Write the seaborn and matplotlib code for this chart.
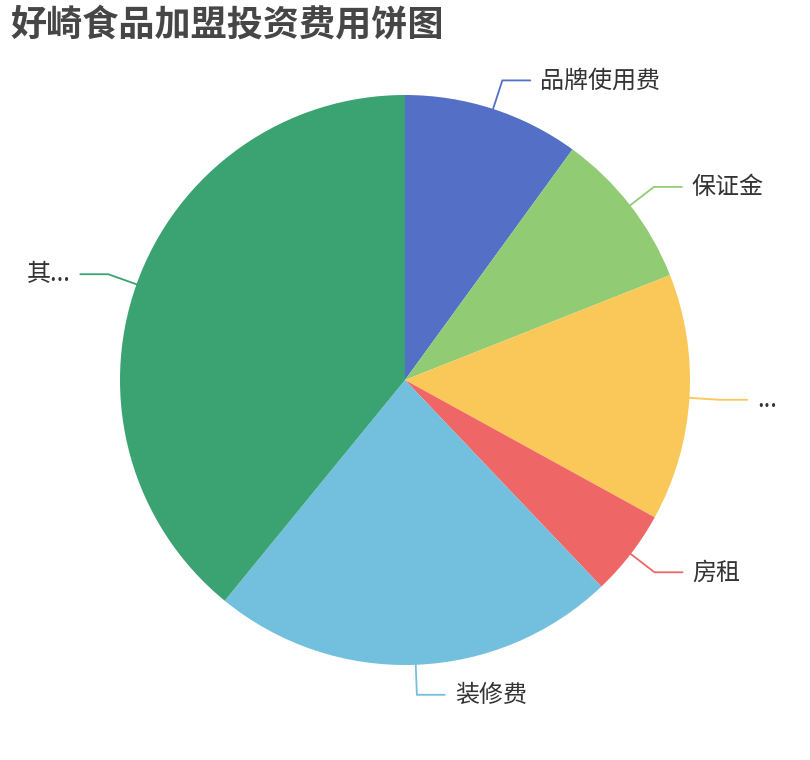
import numpy as np
import matplotlib
matplotlib.use("Agg")
import matplotlib.pyplot as plt
import seaborn as sns

# pie data (shares)
categories = ["品牌使用费", "保证金", "...", "房租", "装修费", "其..."]
values = [10, 9, 14, 4.9, 23, 39.1]
colors = ["#5470c6", "#91cc75", "#fac858", "#ee6666", "#73c0de", "#3ba272"]
title = "好崎食品加盟投资费用饼图"

sns.set_theme(style="white")
plt.rcParams['font.family'] = ['Noto Sans CJK SC', 'DejaVu Sans']

fig = plt.figure(figsize=(8.1, 7.6), dpi=100)
ax = fig.add_axes([0, 0, 1, 1])
cx, cy, r = 405, 380, 285
wedges, _ = ax.pie(values, colors=colors, startangle=90, counterclock=False,
                   center=(cx, cy), radius=r, wedgeprops=dict(linewidth=0))
ax.set_xlim(0, 810)
ax.set_ylim(0, 760)
ax.axis('off')

# label lines like echarts: radial piece then a horizontal piece
for w, lab, col in zip(wedges, categories, colors):
    mid = np.deg2rad((w.theta1 + w.theta2) / 2)
    dx, dy = np.cos(mid), np.sin(mid)
    p0 = (cx + r * dx, cy + r * dy)
    p1 = (cx + (r + 30) * dx, cy + (r + 30) * dy)
    side = 1 if dx >= 0 else -1
    p2 = (p1[0] + side * 28, p1[1])
    ax.plot([p0[0], p1[0], p2[0]], [p0[1], p1[1], p2[1]], color=col, lw=1.3,
            solid_joinstyle='miter')
    ax.text(p2[0] + side * 10, p2[1], lab, ha='left' if side > 0 else 'right',
            va='center', fontsize=17.3, color='#333333')

fig.text(10 / 810, 1 - 25 / 760, title, fontsize=26, fontweight='bold',
         color='#464646', ha='left', va='center')

fig.savefig("out.png", dpi=100)
